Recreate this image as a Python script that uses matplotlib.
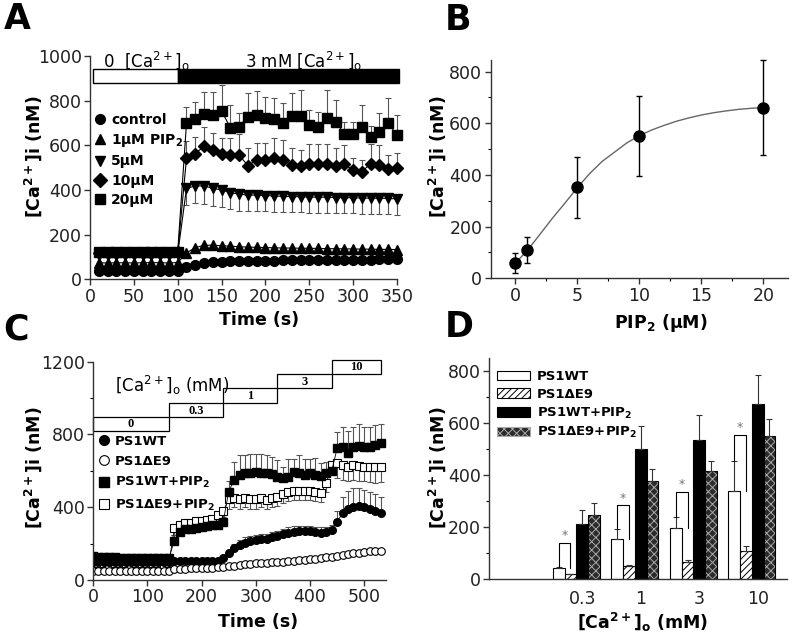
import matplotlib
matplotlib.use('Agg')
import matplotlib.pyplot as plt
from matplotlib.patches import Rectangle, Patch
from matplotlib.lines import Line2D
from matplotlib.ticker import MultipleLocator
import numpy as np

plt.rcParams['hatch.linewidth'] = 0.7
W, H = 800, 644

# ---------------- panel A : time course, PIP2 doses ----------------
t_a = list(range(10, 351, 10))
ctrl_a = [38, 37, 37, 36, 37, 37, 36, 37, 37, 38,
          54, 66, 72, 76, 78, 80, 81, 82, 83, 84, 84, 85, 85, 86, 86, 86, 87, 87, 87, 88, 88, 88, 89, 89, 89]
pip1_a = [74, 73, 74, 74, 73, 74, 75, 74, 73, 75,
          118, 142, 152, 153, 150, 148, 146, 144, 143, 142, 141, 140, 140, 139, 139, 138, 137, 137, 136, 136, 135, 135, 134, 134, 133]
pip5_a = [112, 110, 111, 110, 112, 111, 110, 111, 112, 113,
          407, 418, 418, 407, 400, 388, 381, 377, 377, 375, 373, 371, 370, 370, 368, 368, 367, 366, 365, 365, 364, 363, 363, 362, 360]
pip10_a = [118, 117, 118, 118, 117, 118, 118, 117, 118, 120,
           541, 561, 597, 579, 561, 556, 556, 509, 534, 534, 541, 534, 511, 507, 518, 518, 518, 507, 514, 489, 482, 518, 511, 492, 496]
pip20_a = [122, 121, 122, 121, 122, 122, 121, 122, 121, 124,
           698, 718, 738, 734, 753, 679, 683, 728, 735, 724, 716, 701, 730, 731, 689, 682, 722, 704, 652, 652, 682, 637, 659, 701, 644]
# errors after Ca2+ addition (t = 110..350)
pip5_err = [74, 77, 80, 78, 76, 75, 74, 72, 72, 71, 70, 70, 70, 70, 70, 69, 70, 70, 69, 70, 70, 70, 70, 70, 70]
pip10_err = [80, 75, 86, 74, 70, 75, 94, 80, 75, 75, 90, 90, 76, 73, 89, 89, 89, 80, 88, 53, 53, 88, 90, 65, 69]
pip20_err = [72, 77, 102, 106, 117, 100, 60, 105, 106, 94, 95, 86, 106, 117, 71, 68, 126, 99, 50, 50, 98, 47, 84, 110, 92]

# ---------------- panel B : dose response ----------------
pip_conc = [0, 1, 5, 10, 20]
pip_mean = [58, 110, 352, 551, 661]
pip_sem = [38, 50, 119, 155, 184]
fit_x = [0, 1, 2, 3, 4, 5, 6, 7, 8, 9, 10, 11, 12, 13, 14, 15, 16, 17, 18, 19, 20]
fit_y = [58, 108, 170, 232, 290, 350, 405, 452, 488, 524, 552, 574, 592, 608, 621, 632, 641, 648, 654, 658, 661]

# ---------------- panel C : Ca2+ steps ----------------
t_c = list(range(0, 531, 10))
wt_c = [100, 99, 99, 98, 98, 99, 98, 98, 99, 98, 98, 99, 98, 99, 100,
        102, 103, 103, 104, 104, 105, 105, 106, 107, 119,
        147, 174, 192, 205, 213, 220, 224, 225, 235, 242,
        251, 260, 266, 269, 269, 268, 264, 260, 264, 275,
        321, 367, 390, 403, 407, 400, 389, 381, 370]
de9_c = [52, 51, 50, 50, 50, 49, 50, 50, 49, 50, 50, 50, 49, 50, 52,
         60, 62, 63, 64, 65, 66, 67, 68, 70, 73,
         76, 79, 83, 86, 89, 92, 94, 96, 98, 100,
         101, 104, 107, 110, 112, 114, 117, 121, 125, 128,
         133, 138, 143, 147, 151, 156, 158, 160, 161]
wtpip_c = [130, 127, 125, 124, 124, 123, 123, 122, 123, 122, 122, 122, 123, 122, 122,
           216, 266, 278, 283, 288, 292, 296, 300, 305, 320,
           485, 550, 577, 586, 590, 592, 590, 586, 581, 568,
           559, 568, 595, 586, 577, 586, 577, 572, 586, 601,
           724, 733, 700, 733, 737, 733, 729, 742, 755]
de9pip_c = [92, 91, 92, 90, 91, 92, 91, 90, 91, 92, 91, 92, 91, 90, 92,
            284, 302, 312, 316, 322, 326, 330, 335, 357, 379,
            443, 449, 443, 452, 443, 443, 449, 440, 449, 458,
            473, 485, 488, 488, 488, 488, 485, 477, 532, 632,
            641, 632, 623, 632, 626, 623, 619, 619, 619]
wt_c_err = [6, 6, 6, 6, 6, 6, 6, 6, 6, 6, 6, 6, 6, 6, 6,
            8, 8, 8, 8, 8, 8, 8, 8, 8, 10,
            20, 25, 30, 30, 30, 30, 30, 30, 30, 30,
            30, 30, 30, 30, 30, 30, 30, 30, 30, 30,
            60, 90, 100, 100, 100, 95, 95, 90, 85]
de9_c_err = [4] * 54
wtpip_c_err = [5, 5, 5, 5, 5, 5, 5, 5, 5, 5, 5, 5, 5, 5, 5,
               30, 35, 40, 40, 40, 40, 40, 40, 40, 40,
               60, 100, 110, 100, 100, 100, 100, 100, 95, 90,
               60, 95, 70, 100, 90, 80, 95, 70, 60, 50,
               90, 110, 120, 110, 120, 110, 110, 110, 100]
de9pip_c_err = [5, 5, 5, 5, 5, 5, 5, 5, 5, 5, 5, 5, 5, 5, 5,
                35, 35, 35, 35, 35, 35, 35, 35, 35, 30,
                50, 50, 50, 50, 50, 50, 50, 50, 50, 50,
                50, 50, 50, 50, 50, 50, 50, 50, 50, 50,
                80, 80, 80, 85, 80, 80, 80, 85, 80]
step_labels = ['0', '0.3', '1', '3', '10']
step_start = [0, 140, 240, 340, 440]
step_end = [140, 240, 340, 440, 530]
step_low = [820, 895, 975, 1055, 1133]

# ---------------- panel D : bars ----------------
ca_groups = ['0.3', '1', '3', '10']
wt_bar = [42, 154, 197, 339]
wt_bar_err = [4, 39, 44, 117]
de9_bar = [19, 51, 65, 110]
de9_bar_err = [3, 5, 9, 18]
wtpip_bar = [211, 499, 534, 673]
wtpip_bar_err = [54, 91, 96, 112]
de9pip_bar = [247, 379, 415, 550]
de9pip_bar_err = [47, 45, 38, 67]
bracket_top = [141, 285, 337, 554]
star_y = [168, 312, 364, 582]


def rect(l, t, r, b):
    return [l / W, 1 - b / H, (r - l) / W, (b - t) / H]


def fp(x, y):
    return x / W, 1 - y / H


def style(ax):
    ax.spines['top'].set_visible(False)
    ax.spines['right'].set_visible(False)
    for s in ['left', 'bottom']:
        ax.spines[s].set_linewidth(1.0)
        ax.spines[s].set_color('#333')
    ax.tick_params(direction='out', length=4, width=1, labelsize=12.5,
                   colors='#333', labelcolor='#222', pad=2)
    ax.tick_params(which='minor', length=2.5, width=0.8)


fig = plt.figure(figsize=(8, 6.44), dpi=100)

# ===== A =====
axA = fig.add_axes(rect(90, 55.9, 397, 279.3))
style(axA)
zeros10 = [0] * 10
axA.errorbar(t_a, pip20_a, yerr=[[0] * 35, zeros10 + pip20_err], fmt='none',
             ecolor='#555', elinewidth=0.8, capsize=2.5, capthick=0.8, clip_on=False)
axA.errorbar(t_a, pip10_a, yerr=[[0] * 35, zeros10 + pip10_err], fmt='none',
             ecolor='#555', elinewidth=0.8, capsize=2.5, capthick=0.8, clip_on=False)
axA.errorbar(t_a, pip5_a, yerr=[zeros10 + pip5_err, [0] * 35], fmt='none',
             ecolor='#555', elinewidth=0.8, capsize=2.5, capthick=0.8, clip_on=False)
markA = [(pip20_a, 's', 6.5), (pip10_a, 'D', 6), (pip5_a, 'v', 7), (pip1_a, '^', 7), (ctrl_a, 'o', 7)]
for vals, m, ms in markA:
    axA.plot(t_a, vals, color='k', lw=0.8, marker=m, ms=ms, clip_on=False)
axA.set_xlim(0, 350)
axA.set_ylim(0, 1000)
axA.xaxis.set_major_locator(MultipleLocator(50))
axA.yaxis.set_major_locator(MultipleLocator(200))
axA.add_patch(Rectangle((3, 877), 97, 63, fc='white', ec='k', lw=1, clip_on=False))
axA.add_patch(Rectangle((100, 877), 252, 63, fc='k', ec='k', lw=1, clip_on=False))
axA.text(15, 977, r'0  [Ca$^{2+}$]$_\mathrm{o}$', fontsize=12, va='center')
axA.text(244, 977, r'3 mM [Ca$^{2+}$]$_\mathrm{o}$', fontsize=12, va='center', ha='center')
hA = [Line2D([], [], color='k', ls='none', marker=m, ms=7) for m in ['o', '^', 'v', 'D', 's']]
axA.legend(hA, ['control', r'1µM PIP$_\mathbf{2}$', '5µM', '10µM', '20µM'],
           loc='upper left', bbox_to_anchor=(0.015, 0.745), frameon=False,
           prop={'weight': 'bold', 'size': 10}, handlelength=0.8, handletextpad=0.4,
           labelspacing=0.38, borderpad=0, borderaxespad=0)

# ===== B =====
axB = fig.add_axes(rect(490.7, 60, 788.3, 278.3))
style(axB)
axB.plot(fit_x, fit_y, color='#666', lw=1)
axB.errorbar(pip_conc, pip_mean, yerr=pip_sem, fmt='o', color='k', ms=8,
             elinewidth=1, capsize=2.5, capthick=1, clip_on=False)
axB.set_xlim(-1.96, 22)
axB.set_ylim(0, 845)
axB.xaxis.set_major_locator(MultipleLocator(5))
axB.xaxis.set_minor_locator(MultipleLocator(2.5))
axB.yaxis.set_major_locator(MultipleLocator(200))
axB.yaxis.set_minor_locator(MultipleLocator(100))

# ===== C =====
axC = fig.add_axes(rect(93, 361.7, 386, 580))
style(axC)
axC.errorbar(t_c, de9pip_c, yerr=[de9pip_c_err, [0] * 54], fmt='none', ecolor='#555',
             elinewidth=0.8, capsize=2, capthick=0.8)
axC.errorbar(t_c, wtpip_c, yerr=[[0] * 54, wtpip_c_err], fmt='none', ecolor='#555',
             elinewidth=0.8, capsize=2, capthick=0.8)
axC.errorbar(t_c, wt_c, yerr=[[0] * 54, wt_c_err], fmt='none', ecolor='#555',
             elinewidth=0.8, capsize=2, capthick=0.8)
axC.plot(t_c, de9pip_c, color='k', lw=0.6, marker='s', ms=5.5, mfc='white', mec='k', mew=0.8)
axC.plot(t_c, wtpip_c, color='k', lw=0.6, marker='s', ms=5.5)
axC.plot(t_c, wt_c, color='k', lw=0.6, marker='o', ms=5.5)
axC.plot(t_c, de9_c, color='k', lw=0.6, marker='o', ms=5.5, mfc='white', mec='k', mew=0.8)
for lab, s, e, lo in zip(step_labels, step_start, step_end, step_low):
    axC.add_patch(Rectangle((s, lo), e - s, 78, fc='white', ec='k', lw=0.9, clip_on=False))
    axC.text((s + e) / 2, lo + 36, lab, ha='center', va='center', fontsize=9,
             family='Liberation Serif', weight='bold')
axC.text(145, 1072, r'[Ca$^{2+}$]$_\mathrm{o}$ (mM)', ha='center', va='center', fontsize=12)
axC.set_xlim(0, 540)
axC.set_ylim(0, 1200)
axC.xaxis.set_major_locator(MultipleLocator(100))
axC.yaxis.set_major_locator(MultipleLocator(400))
axC.yaxis.set_minor_locator(MultipleLocator(200))
hC = [Line2D([], [], color='k', ls='none', marker='o', ms=7),
      Line2D([], [], color='k', ls='none', marker='o', ms=7, mfc='white', mew=0.8),
      Line2D([], [], color='k', ls='none', marker='s', ms=7),
      Line2D([], [], color='k', ls='none', marker='s', ms=7, mfc='white', mew=0.8)]
axC.legend(hC, ['PS1WT', 'PS1ΔE9', r'PS1WT+PIP$_\mathbf{2}$', r'PS1ΔE9+PIP$_\mathbf{2}$'],
           loc='upper left', bbox_to_anchor=(0.02, 0.665), frameon=False,
           prop={'weight': 'bold', 'size': 9.5}, handlelength=0.8, handletextpad=0.4,
           labelspacing=0.55, borderpad=0, borderaxespad=0)

# ===== D =====
axD = fig.add_axes(rect(489.3, 358, 787, 579.3))
style(axD)
pos = np.arange(1, 5)
axD.bar(pos - 0.3, wt_bar, 0.2, color='white', edgecolor='k', lw=0.8)
axD.bar(pos - 0.1, de9_bar, 0.2, color='white', edgecolor='k', hatch='/////', lw=0.8)
axD.bar(pos + 0.1, wtpip_bar, 0.2, color='k', edgecolor='k', lw=0.8)
axD.bar(pos + 0.3, de9pip_bar, 0.2, color='#2b2b2b', edgecolor='#a8a8a8', hatch='xxxx', lw=0)
axD.bar(pos + 0.3, de9pip_bar, 0.2, fill=False, edgecolor='k', lw=0.8)
for off, vals, err in [(-0.3, wt_bar, wt_bar_err), (-0.1, de9_bar, de9_bar_err),
                       (0.1, wtpip_bar, wtpip_bar_err), (0.3, de9pip_bar, de9pip_bar_err)]:
    axD.errorbar(pos + off, vals, yerr=[[0] * 4, err], fmt='none', ecolor='#333',
                 elinewidth=0.8, capsize=2.5, capthick=0.8)
for i, p in enumerate(pos):
    axD.plot([p - 0.3, p - 0.3, p - 0.1, p - 0.1],
             [wt_bar[i] + wt_bar_err[i], bracket_top[i], bracket_top[i], wt_bar[i]],
             color='k', lw=0.8)
    axD.text(p - 0.2, star_y[i], '*', ha='center', va='center', color='#777', fontsize=9)
axD.set_xlim(-0.487, 4.6)
axD.set_ylim(0, 850)
axD.set_xticks(pos + 0.1)
axD.set_xticklabels(ca_groups)
axD.tick_params(axis='x', length=0, pad=8)
axD.yaxis.set_major_locator(MultipleLocator(200))
axD.yaxis.set_minor_locator(MultipleLocator(100))
hD = [Patch(fc='white', ec='k', lw=0.8),
      Patch(fc='white', ec='k', hatch='/////', lw=0.8),
      Patch(fc='k', ec='k', lw=0.8),
      Patch(fc='#2b2b2b', ec='#a8a8a8', hatch='xxxx', lw=0.8)]
axD.legend(hD, ['PS1WT', 'PS1ΔE9', r'PS1WT+PIP$_\mathbf{2}$', r'PS1ΔE9+PIP$_\mathbf{2}$'],
           loc='upper left', bbox_to_anchor=(0.026, 0.945), frameon=False,
           prop={'weight': 'bold', 'size': 9.5}, handlelength=2.5, handleheight=0.75,
           handletextpad=0.5, labelspacing=0.35, borderpad=0, borderaxespad=0)

# ===== axis labels & panel letters =====
ylab = r'[Ca$^{\mathbf{2+}}$]i (nM)'
for x, y in [(33, 157), (437, 157), (33, 468), (437, 468)]:
    fig.text(*fp(x, y), ylab, rotation=90, ha='center', va='center',
             fontsize=12.5, fontweight='bold')
fig.text(*fp(259, 320), 'Time (s)', ha='center', va='center', fontsize=12.5, fontweight='bold')
fig.text(*fp(258, 622), 'Time (s)', ha='center', va='center', fontsize=12.5, fontweight='bold')
fig.text(*fp(661, 323), r'PIP$_\mathbf{2}$ (µM)', ha='center', va='center',
         fontsize=12.5, fontweight='bold')
fig.text(*fp(643, 622), r'[Ca$^{\mathbf{2+}}$]$_\mathbf{o}$ (mM)', ha='center', va='center',
         fontsize=12.5, fontweight='bold')
for lab, x, y in [('A', 4, 19), ('B', 445, 20), ('C', 3, 330), ('D', 445, 327)]:
    fig.text(*fp(x, y), lab, ha='left', va='center', fontsize=25, fontweight='bold')

fig.savefig('out.png', dpi=100)
